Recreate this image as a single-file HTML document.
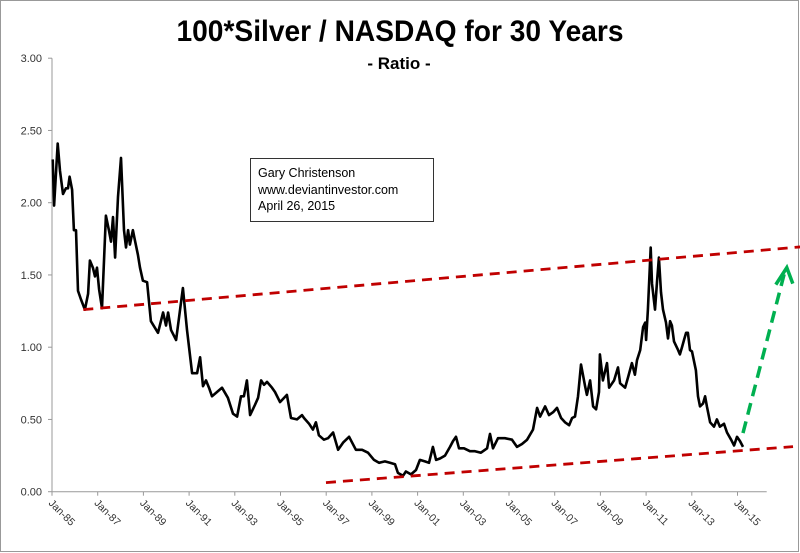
<!DOCTYPE html>
<html><head><meta charset="utf-8"><style>
html,body{margin:0;padding:0;background:#fff}
svg{display:block;font-family:"Liberation Sans",sans-serif}
</style></head><body>
<svg id="chart" width="800" height="553" viewBox="0 0 800 553">
<rect x="0.5" y="0.5" width="798" height="551" fill="#fff" stroke="#999"/>
<text x="400" y="41" text-anchor="middle" font-size="30" font-weight="bold" textLength="447" lengthAdjust="spacingAndGlyphs">100*Silver / NASDAQ for 30 Years</text>
<text x="399" y="69" text-anchor="middle" font-size="17" font-weight="bold">- Ratio -</text>
<g>
<rect x="250.5" y="158.5" width="183" height="63" fill="#fff" stroke="#333"/>
<text x="258" y="177" font-size="12.5">Gary Christenson</text>
<text x="258" y="194" font-size="12.5">www.deviantinvestor.com</text>
<text x="258" y="210" font-size="12.5">April 26, 2015</text>
</g>
<g id="axes"></g>
<g id="marks"></g>
</svg>
<script>
const yTicks = [0, 0.5, 1.0, 1.5, 2.0, 2.5, 3.0];
const xTickYears = [1985,1987,1989,1991,1993,1995,1997,1999,2001,2003,2005,2007,2009,2011,2013,2015];
const xTickLabels = ["Jan-85","Jan-87","Jan-89","Jan-91","Jan-93","Jan-95","Jan-97","Jan-99","Jan-01","Jan-03","Jan-05","Jan-07","Jan-09","Jan-11","Jan-13","Jan-15"];
const years = [1985.03,1985.09,1985.25,1985.35,1985.48,1985.61,1985.70,1985.77,1985.88,1985.96,1986.05,1986.14,1986.27,1986.44,1986.58,1986.66,1986.79,1986.88,1986.97,1987.06,1987.19,1987.36,1987.49,1987.58,1987.67,1987.76,1987.89,1988.02,1988.15,1988.24,1988.33,1988.41,1988.54,1988.63,1988.76,1988.85,1988.98,1989.16,1989.33,1989.64,1989.86,1989.99,1990.08,1990.21,1990.43,1990.73,1990.91,1991.13,1991.35,1991.48,1991.61,1991.74,1991.87,1992.00,1992.22,1992.44,1992.70,1992.92,1993.10,1993.27,1993.40,1993.53,1993.67,1993.88,1994.02,1994.15,1994.28,1994.41,1994.63,1994.76,1994.98,1995.28,1995.46,1995.72,1995.94,1996.03,1996.25,1996.42,1996.55,1996.68,1996.90,1997.08,1997.30,1997.52,1997.74,1998.00,1998.30,1998.57,1998.83,1999.09,1999.31,1999.57,1999.79,2000.01,2000.14,2000.36,2000.49,2000.71,2000.93,2001.10,2001.32,2001.50,2001.67,2001.81,2001.98,2002.20,2002.42,2002.55,2002.68,2002.81,2003.03,2003.29,2003.51,2003.77,2004.04,2004.17,2004.30,2004.52,2004.82,2005.13,2005.35,2005.57,2005.79,2006.05,2006.23,2006.36,2006.58,2006.75,2006.93,2007.10,2007.28,2007.45,2007.63,2007.76,2007.89,2008.02,2008.15,2008.33,2008.41,2008.55,2008.68,2008.81,2008.94,2008.98,2009.11,2009.29,2009.38,2009.60,2009.77,2009.86,2010.08,2010.21,2010.38,2010.51,2010.60,2010.74,2010.87,2010.96,2011.00,2011.08,2011.20,2011.26,2011.39,2011.48,2011.56,2011.65,2011.74,2011.87,2011.96,2012.05,2012.13,2012.22,2012.40,2012.48,2012.57,2012.66,2012.75,2012.83,2012.92,2013.01,2013.18,2013.27,2013.36,2013.49,2013.58,2013.66,2013.80,2013.97,2014.10,2014.23,2014.41,2014.54,2014.72,2014.85,2014.98,2015.11,2015.24];
const ratios = [2.30,1.98,2.41,2.22,2.06,2.10,2.10,2.18,2.09,1.81,1.81,1.39,1.33,1.26,1.37,1.60,1.55,1.49,1.55,1.40,1.27,1.91,1.81,1.73,1.90,1.62,2.04,2.31,1.81,1.69,1.81,1.71,1.81,1.74,1.64,1.55,1.46,1.45,1.18,1.10,1.24,1.15,1.24,1.12,1.05,1.41,1.12,0.82,0.82,0.93,0.73,0.77,0.72,0.66,0.69,0.72,0.65,0.54,0.52,0.66,0.66,0.77,0.53,0.60,0.65,0.77,0.74,0.76,0.72,0.69,0.62,0.67,0.51,0.50,0.53,0.51,0.47,0.43,0.48,0.39,0.36,0.37,0.41,0.29,0.34,0.38,0.29,0.29,0.27,0.22,0.20,0.21,0.20,0.19,0.13,0.11,0.14,0.12,0.15,0.22,0.21,0.20,0.31,0.22,0.23,0.25,0.31,0.35,0.38,0.30,0.30,0.28,0.28,0.27,0.30,0.40,0.30,0.37,0.37,0.36,0.31,0.33,0.36,0.43,0.58,0.52,0.59,0.53,0.55,0.58,0.51,0.48,0.46,0.51,0.52,0.66,0.88,0.73,0.67,0.77,0.59,0.57,0.69,0.95,0.77,0.89,0.72,0.77,0.86,0.75,0.72,0.79,0.89,0.81,0.91,0.98,1.14,1.17,1.05,1.26,1.69,1.44,1.26,1.46,1.62,1.38,1.26,1.17,1.06,1.18,1.15,1.04,0.98,0.95,1.00,1.05,1.10,1.10,0.98,0.97,0.84,0.66,0.59,0.61,0.66,0.59,0.48,0.45,0.50,0.45,0.47,0.41,0.36,0.32,0.38,0.35,0.31];
const upperTrendYears = [1986.37, 2017.82];
const upperTrendValues = [1.26, 1.695];
const lowerTrendYears = [1996.99, 2017.43];
const lowerTrendValues = [0.063, 0.312];
const arrowYears = [2015.24, 2017.07];
const arrowValues = [0.406, 1.523];

const X0 = 52, PXY = 22.85, Y0 = 491.7, PXV = 144.5;
function xs(yr){ return X0 + (yr - 1985) * PXY; }
function ys(v){ return Y0 - v * PXV; }
const NS = "http://www.w3.org/2000/svg";
const axes = document.getElementById('axes');
const marks = document.getElementById('marks');
function mk(tag, attrs, parent){ const e = document.createElementNS(NS, tag); for (const k in attrs) e.setAttribute(k, attrs[k]); parent.appendChild(e); return e; }

const yAxis = mk('line', {x1: X0, y1: ys(3), x2: X0, y2: Y0, stroke: '#999', 'stroke-width': 1}, axes);


const xAxis = mk('line', {x1: X0, y1: Y0, x2: 766.7, y2: Y0, stroke: '#999', 'stroke-width': 1}, axes);



yTicks.forEach(v => {
  const t = mk('line', {x1: X0 - 4, y1: ys(v), x2: X0, y2: ys(v), stroke: '#999'}, axes);
  
  
  const l = mk('text', {x: 42, y: ys(v) + 4, 'text-anchor': 'end', 'font-size': 11, fill: '#333'}, axes);
  l.textContent = v.toFixed(2);
  
  
});
xTickYears.forEach((yr, i) => {
  const x = xs(yr);
  const t = mk('line', {x1: x, y1: Y0, x2: x, y2: Y0 + 4, stroke: '#999'}, axes);
  
  
  const l = mk('text', {x: x - 4, y: Y0 + 12, 'font-size': 10.5, fill: '#333', transform: `rotate(45 ${x - 4} ${Y0 + 12})`}, axes);
  l.textContent = xTickLabels[i];
  
  
});

const pts = years.map((yr, i) => xs(yr).toFixed(1) + ',' + ys(ratios[i]).toFixed(1)).join(' ');
const line = mk('polyline', {points: pts, fill: 'none', stroke: '#000', 'stroke-width': 2.6, 'stroke-linejoin': 'round'}, marks);



const up = mk('line', {x1: xs(upperTrendYears[0]), y1: ys(upperTrendValues[0]), x2: xs(upperTrendYears[1]), y2: ys(upperTrendValues[1]), stroke: '#c00000', 'stroke-width': 2.8, 'stroke-dasharray': '10,7'}, marks);


const lo = mk('line', {x1: xs(lowerTrendYears[0]), y1: ys(lowerTrendValues[0]), x2: xs(lowerTrendYears[1]), y2: ys(lowerTrendValues[1]), stroke: '#c00000', 'stroke-width': 2.8, 'stroke-dasharray': '10,7'}, marks);



const ax1 = xs(arrowYears[0]), ay1 = ys(arrowValues[0]), ax2 = xs(arrowYears[1]), ay2 = ys(arrowValues[1]);
const ar = mk('line', {x1: ax1, y1: ay1, x2: ax2, y2: ay2, stroke: '#00b050', 'stroke-width': 3.5, 'stroke-dasharray': '12,7'}, marks);


const head = mk('polyline', {points: `${ax2-9},${ay2+13} ${ax2+2},${ay2-4} ${ax2+8},${ay2+12}`, fill: 'none', stroke: '#00b050', 'stroke-width': 3.5}, marks);


</script>
</body></html>
